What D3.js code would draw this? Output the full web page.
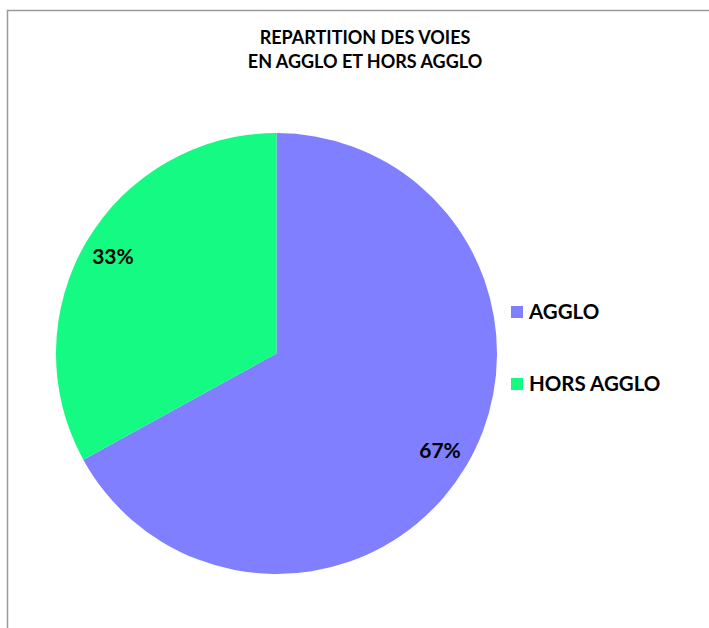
<!DOCTYPE html>
<html><head><meta charset="utf-8">
<script src="https://cdn.jsdelivr.net/npm/d3@7"></script>
<style>body{margin:0;background:#fff}svg{display:block}</style>
</head><body>
<script>
const categories = ["AGGLO", "HORS AGGLO"];
const values = [67, 33];
const colors = ["#7F7FFF", "#14FA82"];
const titleLines = ["REPARTITION DES VOIES", "EN AGGLO ET HORS AGGLO"];

const W = 709, H = 628;
const font = "Lato, 'Open Sans', sans-serif";
const svg = d3.select("body").append("svg").attr("width", W).attr("height", H);
svg.append("rect").attr("x", 7.5).attr("y", 10.5).attr("width", W).attr("height", H)
  .attr("fill", "#fff").attr("stroke", "#9a9a9a").attr("stroke-width", 1.5);

const title = svg.append("text").attr("text-anchor", "middle").attr("font-family", font)
  .attr("font-weight", "bold").attr("font-size", 18).attr("fill", "#000");
titleLines.forEach((t, i) => title.append("tspan").attr("x", 365).attr("y", 44 + i * 24).text(t));

const cx = 276.5, cy = 353.5, R = 220.5;
const pie = d3.pie().sort(null).value(d => d)(values);
const arc = d3.arc().innerRadius(0).outerRadius(R);
const labelArc = d3.arc().innerRadius(190).outerRadius(190);
const g = svg.append("g").attr("transform", `translate(${cx},${cy})`);
g.selectAll("path").data(pie).join("path").attr("d", arc).attr("fill", (d, i) => colors[i]);
g.selectAll("text").data(pie).join("text")
  .attr("transform", d => `translate(${labelArc.centroid(d)})`)
  .attr("text-anchor", "middle").attr("dy", "0.36em")
  .attr("font-family", font).attr("font-weight", "bold").attr("font-size", 21).attr("fill", "#000")
  .text(d => Math.round(d.data / d3.sum(values) * 100) + "%");

const leg = svg.append("g");
categories.forEach((c, i) => {
  const y = 312 + i * 72;
  leg.append("rect").attr("x", 511).attr("y", y - 6).attr("width", 12).attr("height", 12).attr("fill", colors[i]);
  leg.append("text").attr("x", 529).attr("y", y).attr("dy", "0.36em")
    .attr("font-family", font).attr("font-weight", "bold").attr("font-size", 20.5).attr("fill", "#000").text(c);
});
</script>
</body></html>
